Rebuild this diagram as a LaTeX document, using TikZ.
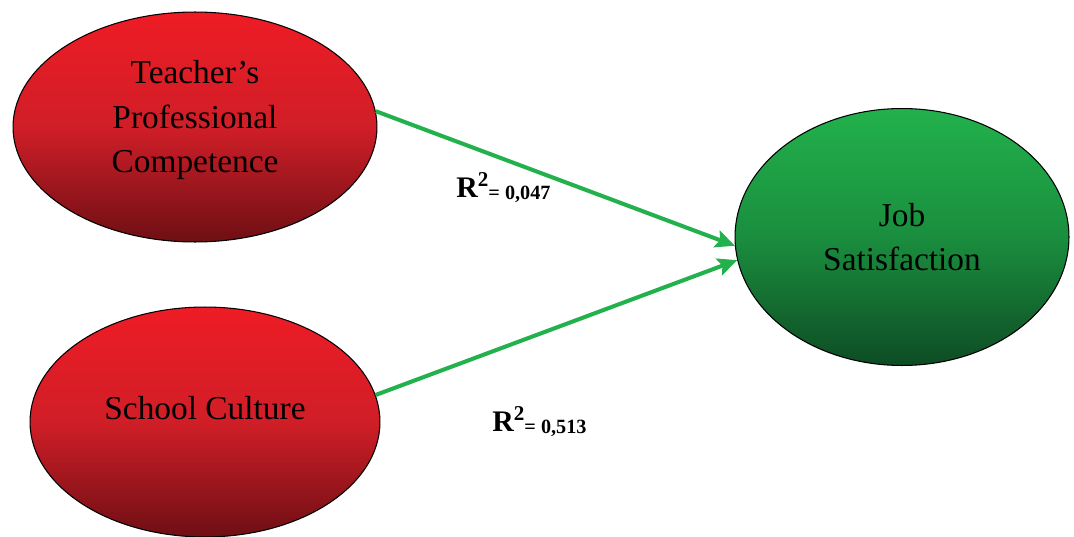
\documentclass[tikz,border=0pt]{standalone}
\usepackage{fontspec}
\setmainfont{Liberation Serif}
\usetikzlibrary{arrows.meta,shapes.geometric}
\definecolor{redtop}{HTML}{EE1C25}
\definecolor{redmid}{HTML}{D01E27}
\definecolor{redbot}{HTML}{6E0F14}
\definecolor{greentop}{HTML}{22B14C}
\definecolor{greenmid}{HTML}{1A8E3E}
\definecolor{greenbot}{HTML}{0E4C24}
\definecolor{linkgreen}{HTML}{22B14C}
\begin{document}
\begin{tikzpicture}[x=0.02cm,y=-0.02cm,
    latent/.style={ellipse, draw=black, line width=0.6pt, inner sep=0pt,
        align=center, font=\fontsize{19}{25.5}\selectfont},
    redvar/.style={latent, top color=redtop, bottom color=redbot, middle color=redmid},
    greenvar/.style={latent, top color=greentop, bottom color=greenbot, middle color=greenmid},
    link/.style={draw=linkgreen, line width=2.3pt,
        -{Stealth[length=11pt,width=10pt,inset=2pt]}},
    rsq/.style={anchor=base west, inner sep=0pt, font=\bfseries}]
        \useasboundingbox (0,0) rectangle (1074,537);
        \node[redvar, minimum width=7.28cm, minimum height=4.6cm, text depth=12pt] (tpc) at (195,127)
            {Teacher’s\\Professional\\Competence};
        \node[redvar, minimum width=7cm, minimum height=4.6cm, text depth=16pt] (sc) at (205,422)
            {School Culture};
        \node[greenvar, minimum width=6.68cm, minimum height=5.14cm] (js) at (902,237)
            {Job\\Satisfaction};
        \draw[link] (tpc.5) -- (js.183);
        \draw[link] (sc.9) -- (js.188);
        \node[rsq] (r1) at (456,197) {\fontsize{17}{20}\selectfont R\raisebox{6pt}{\fontsize{12}{14}\selectfont 2}\raisebox{-1.5pt}{\fontsize{11.5}{13}\selectfont = 0,047}};
        \node[rsq] (r2) at (492,431) {\fontsize{17}{20}\selectfont R\raisebox{6pt}{\fontsize{12}{14}\selectfont 2}\raisebox{-1.5pt}{\fontsize{11.5}{13}\selectfont = 0,513}};
\end{tikzpicture}
\end{document}
